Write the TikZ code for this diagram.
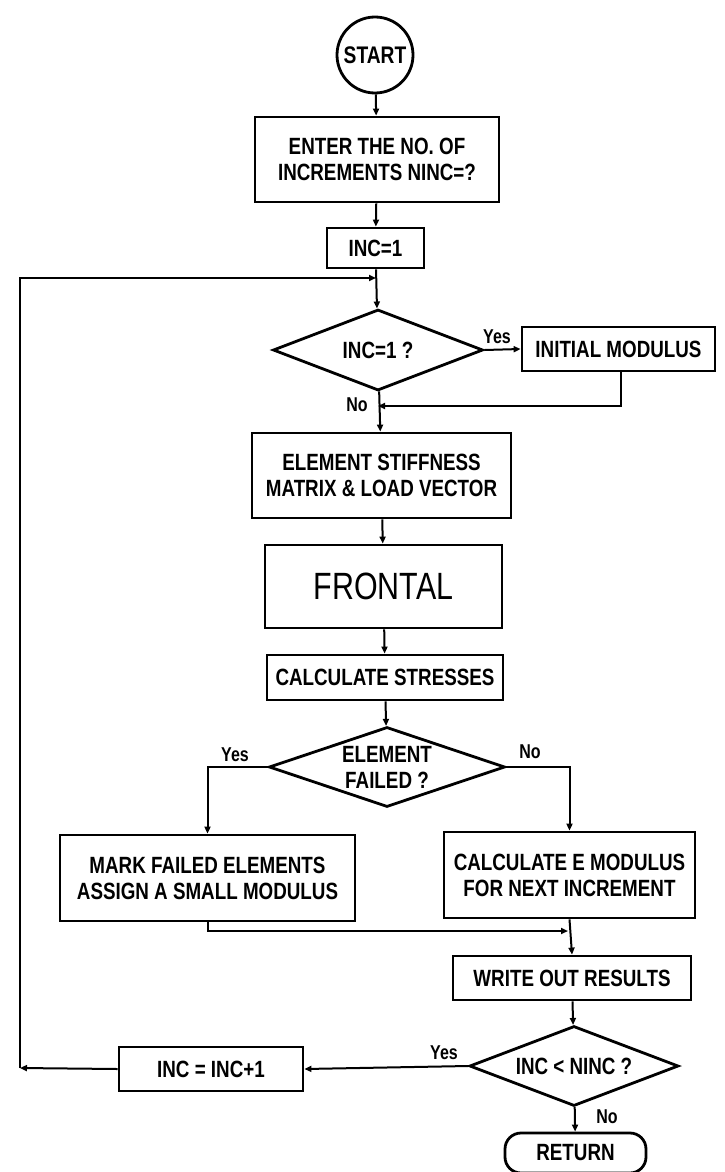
\documentclass[tikz,border=0pt]{standalone}
\usepackage{fontspec}
\setmainfont{Liberation Sans}[FakeStretch=0.8]
\usetikzlibrary{shapes.geometric,arrows.meta,calc}
\tikzset{
  box/.style={draw, line width=2.8pt, rectangle, inner sep=0pt, align=center,
              font=\fontsize{23.5}{26}\selectfont\bfseries},
  dec/.style={draw, line width=2.8pt, diamond, inner sep=0pt},
  dectext/.style={align=center, font=\fontsize{23.5}{26}\selectfont\bfseries},
  lbl/.style={font=\fontsize{20}{22}\selectfont\bfseries},
  conn/.style={line width=2pt, -{Triangle[length=7pt,width=6pt]}},
}
\begin{document}
\begin{tikzpicture}[x=1pt,y=-1pt]
\useasboundingbox (0,0) rectangle (724,1172);
% nodes
\node[box, circle, minimum size=76pt, font=\fontsize{24}{26}\selectfont\bfseries] (start) at (375,55) {START};
\node[box, minimum width=244pt, minimum height=85pt] (enter) at (377,159.5) {ENTER THE NO. OF\\INCREMENTS NINC=?};
\node[box, minimum width=97pt, minimum height=40pt] (inc1) at (375.5,248) {INC=1};
\node[dec, minimum width=210pt, minimum height=81pt, label={[dectext]center:INC=1 ?}] (d1) at (378,350) {};
\node[box, minimum width=193pt, minimum height=44pt] (initmod) at (618.5,349) {INITIAL MODULUS};
\node[box, minimum width=259pt, minimum height=85pt] (stiff) at (381.5,475.5) {ELEMENT STIFFNESS\\MATRIX \& LOAD VECTOR};
\node[box, minimum width=237pt, minimum height=83pt, font=\fontsize{38}{40}\selectfont] (frontal) at (383.5,586.5) {FRONTAL};
\node[box, minimum width=236pt, minimum height=45pt] (calc) at (385,677.5) {CALCULATE STRESSES};
\node[dec, minimum width=236pt, minimum height=80pt, label={[dectext]center:ELEMENT\\FAILED ?}] (d2) at (387,767) {};
\node[box, minimum width=295pt, minimum height=86pt] (mark) at (207.5,878) {MARK FAILED ELEMENTS\\ASSIGN A SMALL MODULUS};
\node[box, minimum width=251pt, minimum height=86pt] (emod) at (569.5,875) {CALCULATE E MODULUS\\FOR NEXT INCREMENT};
\node[box, minimum width=238pt, minimum height=44pt] (write) at (572,978) {WRITE OUT RESULTS};
\node[dec, minimum width=209pt, minimum height=80pt, label={[dectext]center:INC < NINC ?}] (d3) at (574,1066) {};
\node[box, minimum width=184pt, minimum height=44pt] (incinc) at (211,1069) {INC = INC+1};
\node[box, rounded corners=16pt, minimum width=141pt, minimum height=40pt] (ret) at (575.5,1153) {RETURN};
% labels
\node[lbl] (y1) at (497,337) {Yes};
\node[lbl] (n1) at (357,405) {No};
\node[lbl] (y2) at (235,755) {Yes};
\node[lbl] (n2) at (530,752) {No};
\node[lbl] (y3) at (444,1053) {Yes};
\node[lbl] (n3) at (607,1117) {No};
% helper coordinates
\coordinate (m1) at (376,278);
\coordinate (j1) at (378,406);
\coordinate (j2) at (568,931);
\coordinate (c1) at (20,1068);
\coordinate (c2) at (20,278);
% connectors
\draw[conn] (start) -- (enter);
\draw[conn] (enter) -- (inc1);
\draw[conn] (inc1) -- (d1);
\draw[conn] (d1.east) -- (initmod.west);
\draw[conn] (initmod.south -| 621,0) |- (j1);
\draw[conn] (d1) -- (stiff);
\draw[conn] (stiff) -- (frontal);
\draw[conn] (frontal) -- (calc);
\draw[conn] (calc) -- (d2);
\draw[conn] (d2.west) -| (mark.north);
\draw[conn] (d2.east) -| (emod.north);
\draw[conn] (mark.south) |- (j2);
\draw[conn] (emod.south) -- (write.north);
\draw[conn] (write) -- (d3);
\draw[conn] (d3.west) -- (incinc.east);
\draw[conn] (d3) -- (ret);
\draw[conn] (incinc.west) -- (c1);
\draw[conn] (c1) -- (c2) -- (m1);
\end{tikzpicture}
\end{document}
